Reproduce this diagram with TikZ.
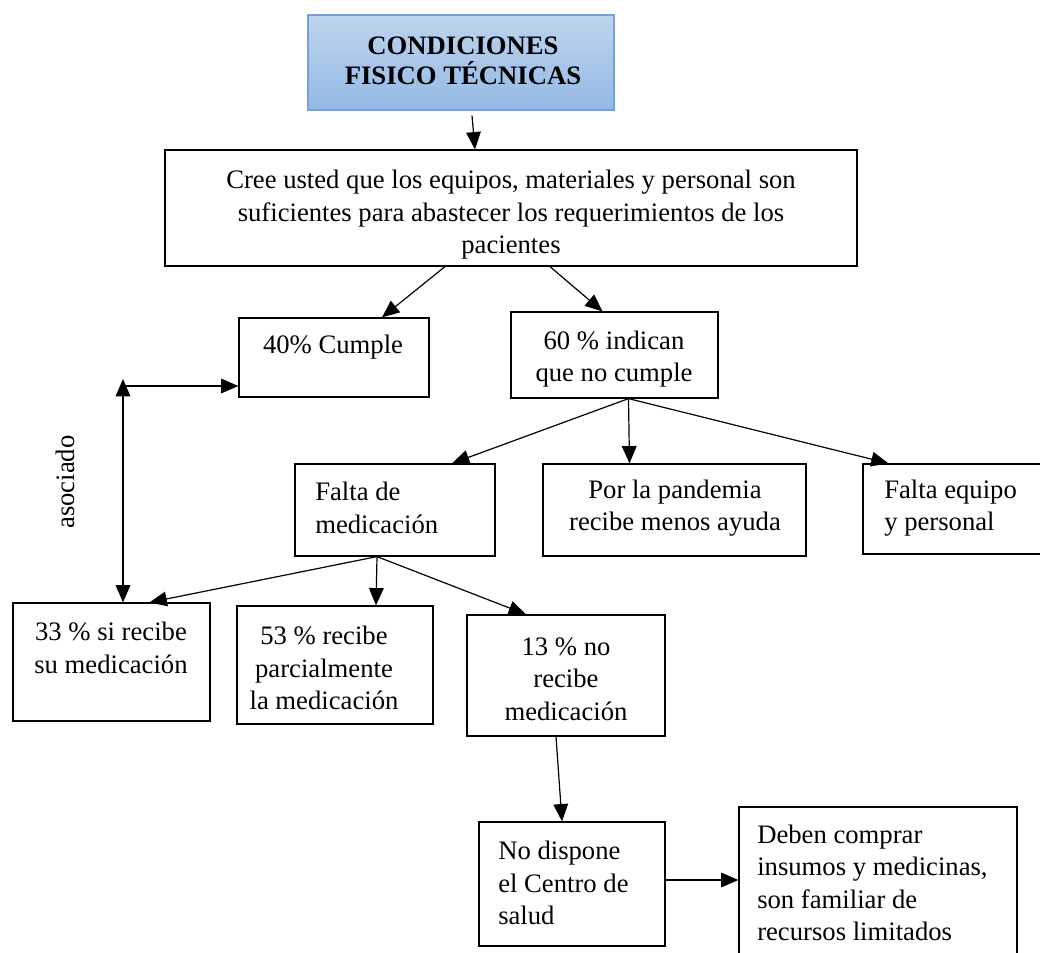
\documentclass[tikz,border=0pt]{standalone}
\usepackage{fontspec}
\setmainfont{Liberation Serif}
\usetikzlibrary{arrows.meta,calc,fit}
\definecolor{hdtop}{RGB}{190,212,238}
\definecolor{hdbot}{RGB}{148,185,228}
\definecolor{hdline}{RGB}{120,160,212}
\begin{document}
\begin{tikzpicture}[x=0.75pt,y=-0.75pt,
  box/.style={draw,line width=0.9pt,inner sep=0pt},
  txt/.style={font=\fontsize{20}{24.4}\selectfont,inner sep=0pt},
  arr/.style={-{Triangle[length=13pt,width=11pt]},line width=0.9pt},
  darr/.style={{Triangle[length=13pt,width=11pt]}-{Triangle[length=13pt,width=11pt]},line width=0.9pt}]
\useasboundingbox (0,0) rectangle (1040,953);

% header
\node[box,draw=hdline,top color=hdtop,bottom color=hdbot,fit={(308,15) (614,110)}] (hd) {};
\node[txt,font=\fontsize{20}{22.5}\selectfont\bfseries,align=center] (hdt) at (463,61) {CONDICIONES\\FISICO TÉCNICAS};

% question
\node[box,fit={(165,150) (857,266)}] (q) {};
\node[txt,align=center] (qt) at (511,215) {Cree usted que los equipos, materiales y personal son\\suficientes para abastecer los requerimientos de los\\pacientes};

% first level
\node[box,fit={(239,318) (429,397)}] (c40) {};
\node[txt] (c40t) at (333,347) {40\% Cumple};
\node[box,fit={(511,312) (718,398)}] (c60) {};
\node[txt,align=center] (c60t) at (614,359) {60 \% indican\\que no cumple};

% reasons
\node[box,fit={(295,464) (495,556)}] (fm) {};
\node[txt,align=left,anchor=west] (fmt) at (315,508) {Falta de\\medicación};
\node[box,fit={(543,464) (806,556)}] (pd) {};
\node[txt,align=center] (pdt) at (675,508) {Por la pandemia\\recibe menos ayuda};
\node[box,fit={(863,464) (1042,554)}] (fe) {};
\node[txt,align=left,anchor=west] (fet) at (884,508) {Falta equipo\\y personal};

% medication
\node[box,fit={(13,603) (210,721)}] (c33) {};
\node[txt,align=center] (c33t) at (111,648) {33 \% si recibe\\su medicación};
\node[box,fit={(237,606) (433,724)}] (c53) {};
\node[txt,align=center] (c53t) at (324,668) {53 \% recibe\\parcialmente\\la medicación};
\node[box,fit={(467,615) (665,736)}] (c13) {};
\node[txt,align=center] (c13t) at (566,679) {13 \% no\\recibe\\medicación};

% consequences
\node[box,fit={(479,822) (665,946)}] (nd) {};
\node[txt,align=left,anchor=west] (ndt) at (498,883) {No dispone\\el Centro de\\salud};
\node[box,fit={(739,807) (1017,962)}] (dc) {};
\node[txt,align=left,anchor=west] (dct) at (757,883) {Deben comprar\\insumos y medicinas,\\son familiar de\\recursos limitados};

% side label
\node[txt,rotate=90] (as) at (65,482) {asociado};
\coordinate (jn) at (123,386);
\coordinate (jt) at (123,379);

% connectors
\draw[arr] ($(hd.south)+(11,5)$) -- ($(q.north)+(-36,0)$);
\draw[arr] ($(q.south)+(-66,0)$) -- ($(c40.north)+(48,0)$);
\draw[arr] ($(q.south)+(39,0)$) -- ($(c60.north)+(-12,0)$);
\draw[arr] ($(c60.south)+(14,0)$) -- ($(fm.north)+(57,0)$);
\draw[arr] ($(c60.south)+(14,0)$) -- ($(pd.north)+(-45,0)$);
\draw[arr] ($(c60.south)+(14,0)$) -- ($(fe.north)+(-64,0)$);
\draw[arr] ($(fm.south)+(-18,0)$) -- ($(c33.north)+(38,0)$);
\draw[arr] ($(fm.south)+(-18,0)$) -- ($(c53.north)+(41,0)$);
\draw[arr] ($(fm.south)+(-18,0)$) -- ($(c13.north)+(-40,0)$);
\draw[arr] ($(c13.south)+(-10,0)$) -- ($(nd.north)+(-10,0)$);
\draw[arr] ([yshift=3pt]nd.east) -- ([yshift=3pt]nd.east -| dc.west);
\draw[arr] (jn) -- (jn -| c40.west);
\draw[darr] (jt) -- (jt |- c33.north);
\end{tikzpicture}
\end{document}
